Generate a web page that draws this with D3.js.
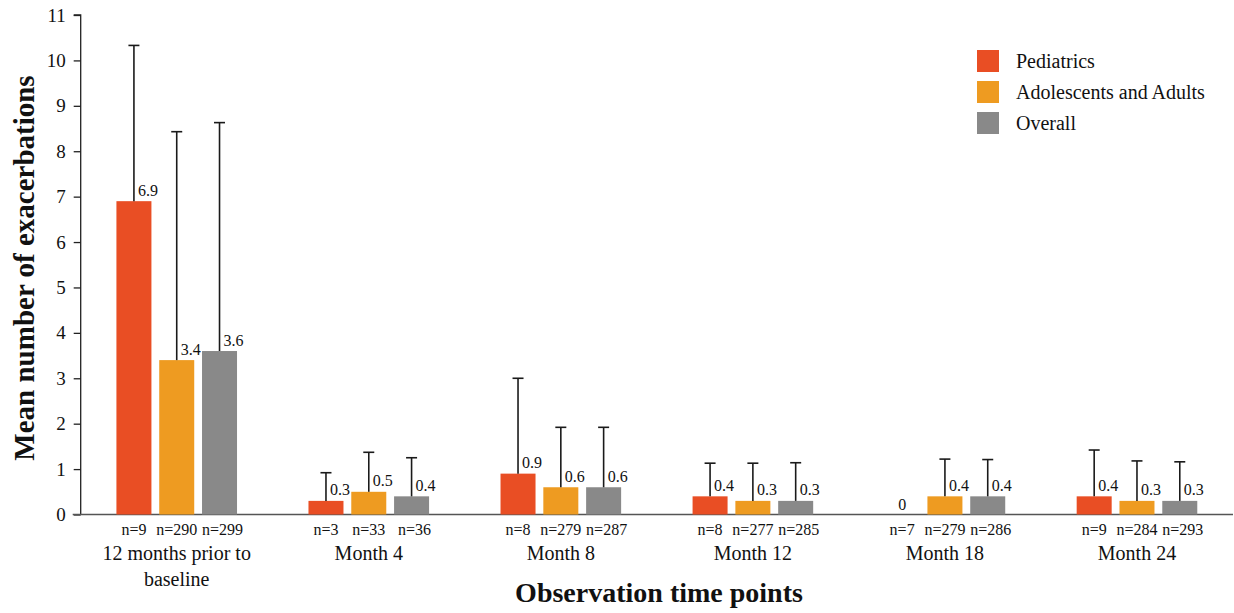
<!DOCTYPE html>
<html>
<head>
<meta charset="utf-8">
<script src="https://cdn.jsdelivr.net/npm/d3@7"></script>
<style>
  html, body { margin: 0; padding: 0; background: #fff; }
</style>
</head>
<body>
<svg id="chart" width="1234" height="613"></svg>
<script>
// ---- Data ----
const categories = ["12 months prior to|baseline", "Month 4", "Month 8", "Month 12", "Month 18", "Month 24"];
const seriesNames = ["Pediatrics", "Adolescents and Adults", "Overall"];
const seriesColors = ["#E94E24", "#EE9B21", "#898989"];
const pediatricsMean = [6.9, 0.3, 0.9, 0.4, 0, 0.4];
const adultsMean     = [3.4, 0.5, 0.6, 0.3, 0.4, 0.3];
const overallMean    = [3.6, 0.4, 0.6, 0.3, 0.4, 0.3];
const pediatricsSD = [3.43, 0.62, 2.1, 0.73, null, 1.02];
const adultsSD     = [5.03, 0.87, 1.32, 0.83, 0.82, 0.88];
const overallSD    = [5.03, 0.85, 1.32, 0.84, 0.81, 0.86];
const pediatricsN = [9, 3, 8, 8, 7, 9];
const adultsN     = [290, 33, 279, 277, 279, 284];
const overallN    = [299, 36, 287, 285, 286, 293];
const yTicks = [0, 1, 2, 3, 4, 5, 6, 7, 8, 9, 10, 11];

const means = [pediatricsMean, adultsMean, overallMean];
const sds = [pediatricsSD, adultsSD, overallSD];
const ns = [pediatricsN, adultsN, overallN];

const FONT = "Liberation Serif";

// ---- Layout ----
const svg = d3.select("#chart");
const x0 = d3.scaleBand().domain(categories).range([80.7, 1233]).padding(0);
const y = d3.scaleLinear().domain([0, 11]).range([514.5, 15]);
const barW = 35, barStep = 42.8;

// Y axis
const yAxis = svg.append("g").attr("transform", "translate(80.7,0)")
  .call(d3.axisLeft(y).tickValues(yTicks).tickSize(7).tickPadding(8).tickFormat(d3.format("d")));
yAxis.attr("font-family", FONT);
yAxis.select(".domain").attr("stroke", "#222").attr("stroke-width", 1.3).attr("d", `M-7,${y(11)}H0V${y(0)}`);
yAxis.selectAll(".tick line").attr("stroke", "#222").attr("stroke-width", 1.3);
yAxis.selectAll(".tick text").attr("font-family", FONT).attr("font-size", 19).attr("fill", "#111");

// X axis baseline
svg.append("line").attr("x1", 72.7).attr("x2", 1233).attr("y1", y(0)).attr("y2", y(0))
  .attr("stroke", "#555").attr("stroke-width", 1.6);

// Bars
const data = [];
categories.forEach((c, i) => {
  seriesNames.forEach((s, j) => {
    data.push({ cat: c, i, j, mean: means[j][i], sd: sds[j][i], n: ns[j][i] });
  });
});
const cx = d => x0(d.cat) + x0.bandwidth() / 2 + (d.j - 1) * barStep;

svg.append("g").selectAll("rect").data(data.filter(d => d.mean > 0)).join("rect")
  .attr("x", d => cx(d) - barW / 2)
  .attr("y", d => y(d.mean))
  .attr("width", barW)
  .attr("height", d => y(0) - y(d.mean))
  .attr("fill", d => seriesColors[d.j]);

// Error bars (upper only)
const eb = svg.append("g").attr("stroke", "#1a1a1a").attr("stroke-width", 1.6);
data.filter(d => d.sd != null).forEach(d => {
  const top = y(d.mean + d.sd);
  eb.append("line").attr("x1", cx(d)).attr("x2", cx(d)).attr("y1", y(d.mean)).attr("y2", top);
  eb.append("line").attr("x1", cx(d) - 5.5).attr("x2", cx(d) + 5.5).attr("y1", top).attr("y2", top);
});

// Value labels
svg.append("g").selectAll("text").data(data).join("text")
  .attr("font-family", FONT)
  .attr("x", d => d.mean > 0 ? cx(d) + 4 : cx(d))
  .attr("y", d => d.mean > 0 ? y(d.mean) - 5.5 : y(0) - 4.5)
  .attr("text-anchor", d => d.mean > 0 ? "start" : "middle")
  .attr("font-size", 16).attr("fill", "#111")
  .text(d => d.mean);

// n labels
svg.append("g").selectAll("text").data(data).join("text")
  .attr("font-family", FONT)
  .attr("x", d => cx(d) + (d.j === 2 ? 3 : 0)).attr("y", 535)
  .attr("text-anchor", "middle").attr("font-size", 16).attr("fill", "#111")
  .text(d => "n=" + d.n);

// Category labels
const catG = svg.append("g");
categories.forEach(c => {
  const lines = c.split("|");
  const t = catG.append("text").attr("font-family", FONT).attr("text-anchor", "middle").attr("font-size", 20).attr("fill", "#111");
  lines.forEach((l, k) => {
    t.append("tspan").attr("x", x0(c) + x0.bandwidth() / 2).attr("y", 560 + k * 25.5).text(l);
  });
});

// Axis titles
svg.append("text").attr("font-family", FONT).attr("x", 659).attr("y", 602).attr("text-anchor", "middle")
  .attr("font-size", 28).attr("font-weight", "bold").attr("fill", "#111").text("Observation time points");
svg.append("text").attr("font-family", FONT).attr("transform", "translate(34,268) rotate(-90)").attr("text-anchor", "middle")
  .attr("font-size", 29).attr("font-weight", "bold").attr("fill", "#111").text("Mean number of exacerbations");

// Legend
const leg = svg.append("g");
seriesNames.forEach((s, j) => {
  const yy = 50 + j * 31;
  leg.append("rect").attr("x", 977).attr("y", yy).attr("width", 22).attr("height", 22).attr("fill", seriesColors[j]);
  leg.append("text").attr("font-family", FONT).attr("x", 1016).attr("y", yy + 18).attr("font-size", 20).attr("fill", "#111").text(s);
});
</script>
</body>
</html>
